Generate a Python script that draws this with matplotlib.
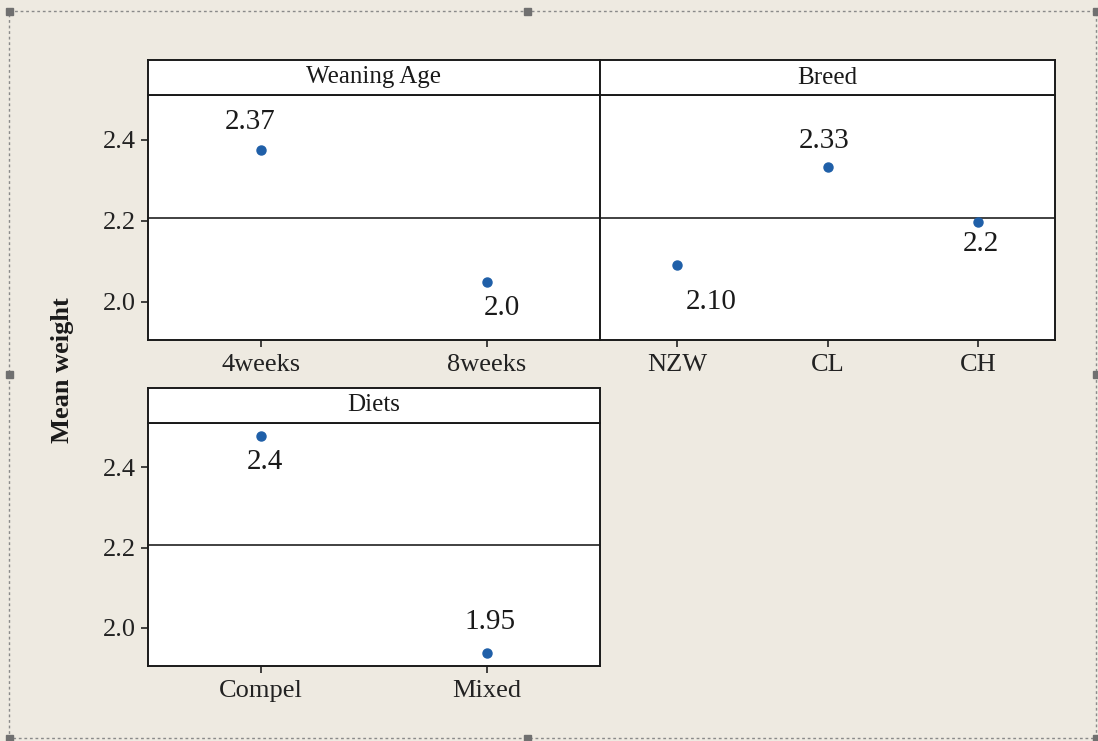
import matplotlib
matplotlib.use("Agg")
import matplotlib.pyplot as plt
from matplotlib.patches import Rectangle

# ---- data ----
weaning_levels = ["4weeks", "8weeks"]
weaning_means = [2.373, 2.047]
weaning_labels = ["2.37", "2.0"]

breed_levels = ["NZW", "CL", "CH"]
breed_means = [2.089, 2.333, 2.197]
breed_labels = ["2.10", "2.33", "2.2"]

diet_levels = ["Compel", "Mixed"]
diet_means = [2.477, 1.937]
diet_labels = ["2.4", "1.95"]

grand_mean = 2.207
y_ticks = [2.0, 2.2, 2.4]
y_title = "Mean weight"

# ---- style ----
W, H = 1098, 741
BG = "#EEEAE1"
PT_COLOR = "#1F5FA8"
FONT = "Liberation Serif"
plt.rcParams["font.family"] = [FONT, "DejaVu Serif"]

fig = plt.figure(figsize=(W / 100, H / 100), dpi=100, facecolor=BG)


def fbox(x0, y0, x1, y1):
    return [x0 / W, 1 - y1 / H, (x1 - x0) / W, (y1 - y0) / H]


YLIM = (1.905, 2.51)
PX = 0.72  # points per pixel


def panel(box, hdr_top, title, levels, means, labels, offsets, xlim, show_y):
    x0, y0, x1, y1 = box
    ax = fig.add_axes(fbox(x0, y0, x1, y1))
    ax.set_facecolor("white")
    x = list(range(len(levels)))
    ax.axhline(grand_mean, color="#333333", lw=1.3, zorder=1)
    ax.plot(x, means, "o", color=PT_COLOR, ms=6.5, zorder=3)
    for xi, m, lab, (dx, dy) in zip(x, means, labels, offsets):
        ax.annotate(lab, xy=(xi, m), xytext=(dx * PX, -dy * PX),
                    textcoords="offset points", ha="center", va="center",
                    fontsize=21, color="#1a1a1a")
    ax.set_xlim(*xlim)
    ax.set_ylim(*YLIM)
    ax.set_xticks(x)
    ax.set_xticklabels(levels)
    ax.set_yticks(y_ticks)
    if show_y:
        ax.set_yticklabels([f"{v:.1f}" for v in y_ticks])
        ax.tick_params(axis="y", length=5, width=1.2, pad=4, labelsize=19,
                       colors="#222222")
    else:
        ax.tick_params(axis="y", left=False, labelleft=False)
    ax.tick_params(axis="x", length=5, width=1.2, pad=5, labelsize=19,
                   colors="#222222")
    for s in ax.spines.values():
        s.set_linewidth(1.4)
        s.set_color("#1a1a1a")
    # header strip
    hx = fig.add_axes(fbox(x0, hdr_top, x1, y0))
    hx.set_facecolor("white")
    hx.set_xticks([])
    hx.set_yticks([])
    for s in hx.spines.values():
        s.set_linewidth(1.4)
        s.set_color("#1a1a1a")
    hx.text(0.5, 0.5, title, ha="center", va="center", fontsize=18,
            color="#1a1a1a", transform=hx.transAxes)
    return ax


panel((148, 95, 600, 340), 60, "Weaning Age", weaning_levels, weaning_means,
      weaning_labels, [(-11, -28), (15, 26)], (-0.5, 1.5), True)
panel((600, 95, 1055, 340), 60, "Breed", breed_levels, breed_means,
      breed_labels, [(34, 37), (-3, -26), (3, 22)], (-0.51, 2.51), False)
panel((148, 423, 600, 666), 388, "Diets", diet_levels, diet_means,
      diet_labels, [(4, 26), (3, -31)], (-0.5, 1.5), True)

fig.text(63 / W, 1 - 370 / H, y_title, rotation=90, ha="center", va="center",
         fontsize=19, fontweight="bold", color="#1a1a1a")

# dotted selection frame with handles
ov = fig.add_axes([0, 0, 1, 1], facecolor="none")
ov.set_xlim(0, W)
ov.set_ylim(H, 0)
ov.axis("off")
ov.add_patch(Rectangle((9, 11), 1087, 727, fill=False, ls=(0, (2, 2)),
                       lw=1.0, ec="#8a8a8a"))
for hx_, hy_ in [(9, 11), (527, 11), (9, 374), (9, 738), (527, 738),
                 (1096, 11), (1096, 374), (1096, 738)]:
    ov.add_patch(Rectangle((hx_ - 3.5, hy_ - 3.5), 7, 7, color="#707070"))

fig.savefig("out.png", dpi=100, facecolor=BG)
